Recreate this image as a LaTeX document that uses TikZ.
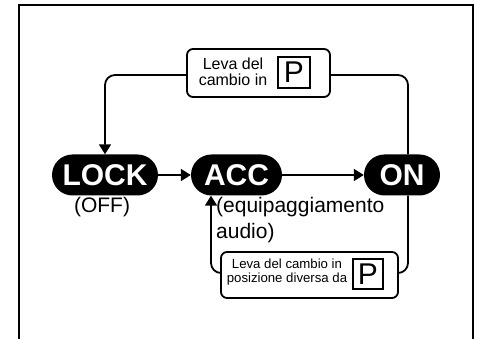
\documentclass[tikz,border=0pt]{standalone}
\usepackage{fontspec}
\setmainfont{Liberation Sans}
\usetikzlibrary{arrows.meta}
\begin{document}
\begin{tikzpicture}[x=1pt,y=1pt,
  pill/.style={fill=black,text=white,rounded corners=20.5pt,minimum height=41pt,inner sep=0pt,font=\fontsize{30}{30}\selectfont\bfseries},
  lbox/.style={draw,line width=1.8pt,rounded corners=6pt,inner sep=0pt},
  pbox/.style={draw,line width=1.8pt,inner sep=0pt,font=\fontsize{30}{30}\selectfont},
  conn/.style={line width=1.8pt,rounded corners=10pt},
  tip/.style={-{Triangle[length=10pt,width=12pt]}},
  lbl/.style={inner sep=0pt,align=center}
]
\useasboundingbox (0,0) rectangle (477,339);
\draw[line width=1.8pt] (19,-5) -- (19,334) -- (473,334) -- (473,-5);

\node[pill,minimum width=106pt] (lock) at (105,164) {LOCK};
\node[pill,minimum width=91pt] (acc) at (236.5,164) {ACC};
\node[pill,minimum width=76pt] (on) at (402,164) {ON};

\node[anchor=base,inner sep=0pt,font=\fontsize{21}{21}\selectfont] (off) at (102,126) {(OFF)};
\node[anchor=base west,inner sep=0pt,align=left,font=\fontsize{21}{26}\selectfont] (audio) at (216,100) {(equipaggiamento\\audio)};

% top box
\node[lbox,minimum width=143pt,minimum height=48pt] (top) at (258.5,266) {};
\node[lbl,font=\fontsize{16}{16.5}\selectfont] (toptext) at (233,267) {Leva del\\cambio in};
\node[pbox,minimum width=32pt,minimum height=31pt] (topP) at (294,266.5) {P};

% bottom box
\node[lbox,minimum width=177pt,minimum height=46pt] (bot) at (309.5,64) {};
\node[lbl,font=\fontsize{13.2}{13.5}\selectfont] (bottext) at (287,67) {Leva del cambio in\\posizione diversa da};
\node[pbox,minimum width=30pt,minimum height=30pt] (botP) at (368,65) {P};

% connectors
\draw[conn,tip] (lock.east) -- (acc.west);
\draw[conn,tip] (acc.east) -- (on.west);
\draw[conn,tip] ([yshift=-2pt]top.west) -| (lock.north);
\draw[conn] ([yshift=-2pt]top.east) -| ([xshift=6pt]on.north);
\draw[conn] ([xshift=6pt]on.south) |- ([yshift=2pt]bot.east);
\draw[conn,tip] ([yshift=2pt]bot.west) -| ([xshift=-25.5pt]acc.south);
\end{tikzpicture}
\end{document}
